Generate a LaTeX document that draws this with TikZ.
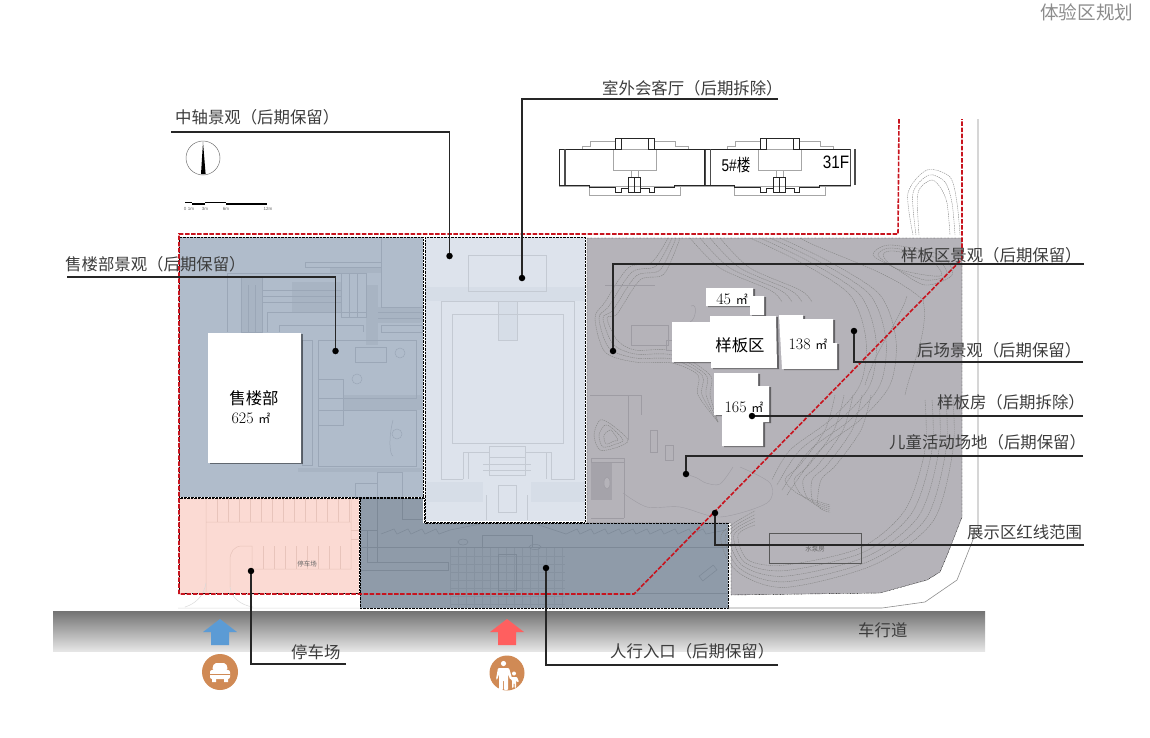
\documentclass[tikz,border=0pt]{standalone}
\usepackage{fontspec}
\usepackage{amsmath}
\newfontfamily\cjk{Noto Sans CJK SC}
\newfontfamily\arialfont{Liberation Sans}
\usetikzlibrary{arrows,calc,math,shadows}

\definecolor{zoneblue}{HTML}{B0BCCB}
\definecolor{zonelight}{HTML}{DDE3EC}
\definecolor{zonegray}{HTML}{B5B3B9}
\definecolor{zonedark}{HTML}{8F9BA9}
\definecolor{zonepink}{HTML}{FBDAD3}
\definecolor{lineblue}{HTML}{9BA7B7}
\definecolor{hatchblue}{HTML}{A8B4C3}
\definecolor{linelight}{HTML}{C4CAD3}
\definecolor{hatchlight}{HTML}{D6DDE7}
\definecolor{linegray}{HTML}{9E9CA3}
\definecolor{hatchgray}{HTML}{A5A3AA}
\definecolor{linedark}{HTML}{7D8997}
\definecolor{griddark}{HTML}{8692A0}
\definecolor{linepink}{HTML}{E8C4BB}
\definecolor{redline}{HTML}{C8141E}
\definecolor{arrowblue}{HTML}{5B9BD5}
\definecolor{arrowred}{HTML}{FF5F5F}
\definecolor{iconbrown}{HTML}{D08A55}
\definecolor{labeltext}{HTML}{3C3C3C}

\tikzset{
	zoneedge/.style={draw=black,line width=0.4pt,dash pattern=on 0.7pt off 0.7pt},
	contour/.style={draw=black!48,line width=0.4pt,dash pattern=on 1.4pt off 0.8pt},
	redbound/.style={draw=redline,line width=1.6pt,dash pattern=on 4.5pt off 1.6pt},
	bldg/.style={fill=white,drop shadow={shadow xshift=2pt,shadow yshift=-1pt,opacity=0.45,fill=black}},
	leader/.style={draw=black!85,line width=1.1pt},
	leaddot/.style={circle,fill=black,inner sep=0pt,minimum size=6.5pt},
	label/.style={inner sep=0pt,anchor=west,text=labeltext,font=\cjk\fontsize{16.4}{18}\selectfont},
	areatext/.style={inner sep=0pt,text=black,font=\fontsize{16}{17}\selectfont},
	tinytext/.style={inner sep=0pt,text=black!60,font=\cjk\fontsize{6.5}{7}\selectfont},
	scaletext/.style={inner sep=0pt,text=black!60,font=\arialfont\fontsize{4.5}{5}\selectfont},
}
\newcommand{\sqm}{{\cjk\fontsize{12}{13}\selectfont ㎡}}

\begin{document}
\begin{tikzpicture}[x=1pt,y=-1pt,>=latex]

\tikzmath{
	real	\redx, \redy, \rede;
	\redx = 179;
	\redy = 234;
	\rede = 594;
	real	\unitgap;
	\unitgap = 145.5;
}

\useasboundingbox (0,0) rectangle (1150,737);

% zones
\fill[zoneblue] (179,237) rectangle (423,497);
\fill[zonepink] (179,498) rectangle (359,593);
\fill[zonegray] (587,238)--(962,238)--(962,517)--(948,553)--(940,572)--(927,580)
	--(880,593)--(731,595)--(731,523)--(587,523)--cycle;
\fill[zonedark] (360,498)--(424,498)--(424,523)--(728,523)--(728,608)--(360,608)--cycle;
\fill[zonelight] (424,237) rectangle (586,522);

% sales plaza
\fill[hatchblue] (241,277) rectangle (262,332);
\fill[hatchblue] (292,282) rectangle (341,312);
\fill[hatchblue] (366,285) rectangle (378,345);
\fill[hatchblue] (378,307) rectangle (423,323);
\fill[hatchblue] (343,395) rectangle (422,410);
\fill[hatchblue] (298,468) rectangle (423,472);
\fill[hatchblue] (330,267) rectangle (381,273);
\begin{scope}[draw=lineblue,line width=0.5pt]
\draw (381,238)--(381,307)--(423,307);
\draw (305,262)--(381,262) (305,262)--(305,267)--(381,267);
\draw (227,273)--(227,332) (227,273)--(341,273);
\draw (267,332)--(267,312)--(366,312);
\draw (279,332)--(279,325)--(363,325)--(363,332);
\draw (341,273) rectangle (366,317);
\draw (381,325) rectangle (422,332);
\draw (318,340) rectangle (416,398);
\draw (318,410) rectangle (416,466);
\draw (318,379) rectangle (343,425);
\draw (355,347) rectangle (386,362);
\draw (302,340) rectangle (312,465);
\draw (377,472) rectangle (402,497);
\draw (355,483) rectangle (377,497);
\draw (400,353) circle (5);
\draw (357,379) circle (5);
\draw (397,434) circle (5);
\draw (241,277) rectangle (262,332);
\foreach \xx in {248,255}{\draw (\xx,285)--(\xx,332);}
\foreach \xx in {349,357}{\draw (\xx,273)--(\xx,317);}
\foreach \yy in {290,296,302}{\draw (262,\yy)--(341,\yy);}
\foreach \yy in {312,318}{\draw (378,\yy)--(423,\yy);}
\draw (393,420)..controls (388,440) and (390,455)..(393,456);
\end{scope}

% central court
\fill[hatchlight] (425,287) rectangle (586,301);
\fill[hatchlight] (427,482) rectangle (483,502);
\fill[hatchlight] (531,482) rectangle (586,502);
\fill[hatchlight] (498,301) rectangle (517,340);
\begin{scope}[draw=linelight,line width=0.7pt]
\draw (468,255) rectangle (546,291);
\draw (463,479)--(441,479)--(441,301)--(574,301)--(574,479)--(551,479)--(551,452)--(525,452);
\draw (463,479)--(463,452)--(489,452);
\draw (452,314) rectangle (563,443);
\draw (498,301) rectangle (517,340);
\draw (489,446) rectangle (525,475);
\draw (489,457)--(525,457) (483,464)--(531,464) (483,470)--(531,470);
\draw (498,485) rectangle (516,512);
\draw (486,495)--(486,520) (527,495)--(527,520);
\draw (468,452)--(468,479) (546,452)--(546,479);
\end{scope}

% parking
\begin{scope}[draw=linepink,line width=0.5pt]
\draw (206,498)--(206,592) (206,522)--(351,522) (351,498)--(351,569)--(252,569)--(252,546)
	--(242,546)..controls (234,546) and (230,552)..(230,560)--(230,587);
\foreach \xx in {217,228,...,350}{\draw (\xx,498)--(\xx,522);}
\foreach \xx in {263,274,...,350}{\draw (\xx,546)--(\xx,569);}
\draw (351,530)--(359,530) (351,539)--(359,539);
\end{scope}
\draw[black!15,line width=0.5pt] (178,608)--(360,608)
	(206,583)..controls (204,596) and (195,604)..(185,607)
	(230,587)..controls (231,597) and (240,605)..(253,607);
\node[tinytext] (tinyPark) at (307,564) {停车场};

% entrance
\foreach \xx in {450,458,...,565}{\draw[griddark,line width=0.3pt] (\xx,548)--(\xx,607);}
\foreach \yy in {556,564,...,607}{\draw[griddark,line width=0.3pt] (450,\yy)--(565,\yy);}
\begin{scope}[draw=linedark,line width=0.5pt]
\draw (367,530)--(367,562)--(448,562)--(448,570)--(360,570);
\draw (377,498)--(377,562) (360,530)--(377,530);
\draw (402,498)--(402,519)--(423,519);
\draw (360,547)--(728,547) (634,593)--(728,593);
\draw (482,548)--(482,535)--(532,535)--(532,548);
\draw[line width=0.8pt] (498,554) rectangle (516,590);
\draw (463,542) ellipse (5 and 3);
\draw (535,547) ellipse (6 and 2.5);
\draw[rotate around={38:(708,573)}] (699,570) rectangle (717,576);
\draw plot coordinates {(381,534)(394,529)(397,534)(408,529)(411,534)(422,529)(425,534)(436,529)(439,534)(450,530)(480,524)};
\draw plot coordinates {(536,524)(566,534)(577,529)(580,534)(591,529)(594,534)(605,529)(608,534)(619,529)(622,534)(633,529)(636,534)(647,529)(650,534)(661,529)(664,534)(675,529)(678,534)(689,529)(692,534)(703,529)(706,534)(726,530)};
\end{scope}

% contours of the garden
\foreach \k [evaluate=\k as \d using \k*7] in {0,...,4}{
	\draw[contour] plot[smooth] coordinates {({925+\d},400) ({925+\d},450) ({905+\d},{510+\d*.4})
		({860+\d*.5},{548+\d*.6}) (785,{565+\d*.8}) ({748-\d*.4},{560+\d*.4}) ({738-\d*.6},535) (755,{525-\d*.5})};
}
\foreach \k [evaluate=\k as \d using \k*10] in {0,...,3}{
	\draw[contour] plot[smooth] coordinates {({750+\d},238) ({800+\d},262) ({850+\d},295) ({866+\d},340)
		({860+\d},385) ({830+\d},420) ({790+\d},450) ({772+\d*.5},{480+\d*.5})};
}
\foreach \k [evaluate=\k as \d using \k*9] in {0,...,4}{
	\draw[contour] plot[smooth] coordinates {({835+\d},395) ({825+\d},430) ({800+\d},465) ({785+\d},480) ({800+\d*.5},{495+\d*.3}) (830,{505+\d*.2})};
}
\foreach \k [evaluate=\k as \d using \k*10] in {0,...,3}{
	\draw[contour] plot[smooth] coordinates {({690+\d},238) ({720+\d},268) ({770+\d},290) ({782+\d},302)};
}
\foreach \k [evaluate=\k as \d using \k*4] in {0,...,3}{
	\draw[contour] plot[smooth] coordinates {({668+\d},238) ({652+\d},{262+\d}) ({628+\d},{268+\d}) ({605+\d},{302+\d})
		({595+\d},{318}) ({605+\d},{352-\d}) ({635},{362-\d}) ({672},{363-\d}) ({698+\d},375) ({698+\d},395) ({718},{422})};
}
\foreach \k [evaluate=\k as \d using \k*5] in {0,...,2}{
	\draw[contour] plot[smooth cycle] coordinates {({600+\d},{420+\d}) ({612},{425+\d*.6}) ({628-\d},{440}) ({618-\d*.4},{447-\d*.6}) ({600+\d*.6},{450-\d*.6}) ({594+\d},{435})};
	\draw[contour] plot[smooth] coordinates {({913+\d*.6},235) ({908+\d},193) ({927+\d*.4},{170+\d}) ({950-\d},{177+\d}) ({957-\d},203) ({960-\d},235)};
	\draw[contour] plot[smooth cycle] coordinates {({873+\d},{255}) ({890+\d*.4},{245+\d*.6}) ({940-\d},{255+\d*.5}) ({952-\d},{275}) ({925},{285-\d}) ({895},{268})};
}
\draw[contour] (800,238)..controls (830,255) and (890,270)..(923,300)..controls (930,330) and (910,370)..(905,395);
\draw[contour] (865,385)..controls (875,350) and (900,320)..(907,296);
\draw[linegray,line width=0.4pt] plot[smooth] coordinates {(623,493) (647,507) (680,507) (720,517) (767,503) (770,483) (740,467)};
\draw[linegray,line width=0.4pt] plot[smooth] coordinates {(686,474) (697,478) (706,483) (720,484) (733,467)};

% west garden
\begin{scope}[draw=linegray,line width=0.5pt]
\fill[hatchgray] (591,462) rectangle (612,500);
\draw (591,458) rectangle (624,462);
\draw (624,462)--(624,518) (591,518)--(624,518);
\draw[fill=zonegray] (607,483) ellipse (3 and 6);
\draw (590,395)--(641,395)--(641,415) (628,395)--(628,440);
\draw (650,430) rectangle (657,452) (665,445) rectangle (673,460);
\draw (631,325) rectangle (668,345);
\draw (666,340) rectangle (676,350);
\draw (691,306)..controls (698,302) and (696,320)..(690,322);
\draw (605,285)--(655,285);
\end{scope}

% pump room
\draw[black!65,line width=0.9pt] (769,533) rectangle (861,563);
\node[tinytext] (tinyPump) at (815,549) {水泵房};

% buildings
\path[bldg] (208,333) rectangle (301,463);
\path[bldg] (706,288)--(753,288)--(753,296)--(764,296)--(764,315)--(750,315)--(750,306)--(706,306)--cycle;
\path[bldg] (714,373)--(758,373)--(758,386)--(769,386)--(769,422)--(763,422)--(763,446)--(722,446)--(722,415)--(714,415)--cycle;
\path[bldg] (672,322)--(710,322)--(710,316)--(776,316)--(777,368)--(711,368)--(711,362)--(672,362)--cycle;
\path[bldg] (779,315)--(803,315)--(803,319)--(833,319)--(833,343)--(837,343)--(837,369)--(782,369)--cycle;

% edges of the zones
\draw[white,line width=1.5pt] (424,237)--(424,522)--(586,522)--(586,237);
\draw[zoneedge] (179,237) rectangle (423,497);
\draw[zoneedge] (179,498) rectangle (359,593);
\draw[zoneedge] (425,237) rectangle (585,522);
\draw[zoneedge] (587,238)--(962,238)--(962,517)--(948,553)--(940,572)--(927,580)
	--(880,593)--(731,595)--(731,523)--(587,523)--cycle;
\draw[zoneedge] (360,498)--(424,498)--(424,523)--(728,523)--(728,608)--(360,608)--cycle;

% street
\draw[black!45,line width=0.6pt] (978,119)--(978,527)--(957,580)--(925,602)--(882,608)--(728,608);

% red line
\draw[redbound] (899,119)--(898,234)--(\redx,\redy)--(\redx,\rede)--(634,\rede)--(962,259)--(962,119);

% north and scale
\draw[black!55,line width=0.5pt] (203,158) circle (17);
\fill[black] (203,142)--(205.6,174)--(201,174)--cycle;
\draw[black,line width=0.9pt] (185,202)--(192,202) (205,202)--(226,202);
\draw[black,line width=1.2pt] (192,204)--(205,204) (226,204)--(267,204);
\node[scaletext] (scaleA) at (185,209) {0};
\node[scaletext] (scaleB) at (191,209) {1m};
\node[scaletext] (scaleC) at (205,209) {3m};
\node[scaletext] (scaleD) at (226,209) {6m};
\node[scaletext] (scaleE) at (268,209) {12m};

% tower
\foreach \ux in {0,\unitgap}{
\begin{scope}[xshift=\ux]
\draw[black!35,line width=0.5pt] (613,149) rectangle (656,170);
\draw[black!35,line width=0.5pt] (582,149)--(582,146)--(590,146)--(590,141)--(615,141)
	(654,141)--(675,141)--(675,146)--(688,146)--(688,149);
\draw[black!35,line width=0.5pt] (559,186)--(705,186) (589,186)--(589,195)--(680,195)--(680,186);
\draw[black!35,line width=0.5pt] (631,170)--(631,177) (638,170)--(638,177);
\draw[black!85,line width=0.8pt] (559,149)--(615,149)--(615,138)--(654,138)--(654,149)--(705,149);
\draw[black!85,line width=0.8pt] (559,149)--(559,185)--(589,185)--(589,187)--(615,187)--(615,192)--(621,192)--(621,188)--(628,188)
	(640,188)--(649,188)--(649,192)--(654,192)--(654,187)--(674,187)--(674,185)--(705,185);
\draw[black!85,line width=0.8pt] (615,138)--(615,149)--(621,149)--(621,138) (648,138)--(648,149)--(654,149);
\draw[black!85,line width=0.8pt] (628,177) rectangle (634,192) (634,177) rectangle (640,192);
\draw[black!70,line width=1.2pt] (565,149)--(565,185) (705,149)--(705,185);
\end{scope}
}
\draw[black!70,line width=1.2pt] (855,149)--(855,185);
\node[inner sep=0pt,font=\arialfont\fontsize{17}{18}\selectfont,xscale=0.8] (lbTower) at (736,165) {5\#{\cjk 楼}};
\node[inner sep=0pt,font=\arialfont\fontsize{18}{19}\selectfont,xscale=0.85] (lbFloor) at (836,162) {31F};

% road
\shade[top color=black!55,bottom color=black!10] (53,611) rectangle (985,651);

\fill[arrowblue] (220,619)--(237,632)--(229,632)--(229,645)--(211,645)--(211,632)--(203,632)--cycle;
\fill[arrowred] (507,619)--(524,632)--(516,632)--(516,645)--(498,645)--(498,632)--(490,632)--cycle;

% icons
\fill[iconbrown] (220,672) circle (18);
\fill[white,rounded corners=2pt] (212,670)--(214,663)--(226,663)--(228,670)--cycle;
\fill[white,rounded corners=2pt] (210,670) rectangle (230,679);
\fill[white] (212,679) rectangle (216,682) (224,679) rectangle (228,682);
\draw[iconbrown,line width=0.6pt] (210,674)--(230,674);
\fill[iconbrown] (507,673) circle (17.5);
\fill[white] (503.5,663.5) circle (2.6);
\fill[white,rounded corners=1pt] (498,668)--(509,668)--(512,678)--(510,679)--(508,674)--(508,690)--(504,690)--(504,680)--(503,680)--(503,690)--(499,690)--(499,674)--(497,680)--(496,679)--cycle;
\fill[white] (514,673.5) circle (2);
\fill[white,rounded corners=0.8pt] (511,677)--(517,677)--(519,682)--(517,682)--(516,680)--(516,688)--(514.5,688)--(514.5,683)--(513.5,683)--(513.5,688)--(512,688)--(512,680)--(509,678)--cycle;

% dots
\node[leaddot] (dotZhong) at (449.5,256) {};
\node[leaddot] (dotKeting) at (522,278) {};
\node[leaddot] (dotShou) at (335.5,351) {};
\node[leaddot] (dotYang) at (613,351) {};
\node[leaddot] (dotHou) at (854,331) {};
\node[leaddot] (dotFang) at (752,416) {};
\node[leaddot] (dotErtong) at (686,474) {};
\node[leaddot] (dotHong) at (715,513) {};
\node[leaddot] (dotTing) at (251,571) {};
\node[leaddot] (dotRen) at (546,568) {};

% leaders
\coordinate (endZhong) at (171,132);
\coordinate (endKeting) at (778,99);
\coordinate (endShou) at (67,277);
\coordinate (endYang) at (1084,264);
\coordinate (endHou) at (1083,362);
\coordinate (endFang) at (1083,416);
\coordinate (endErtong) at (1083,456);
\coordinate (endHong) at (1084,545);
\coordinate (endTing) at (346,664);
\coordinate (endRen) at (778,665);

\foreach \nm in {Zhong,Keting,Shou,Yang,Hou,Ertong,Hong,Ting,Ren}{
	\draw[leader] (end\nm)-|(dot\nm);
}
\draw[leader] (endFang)--(dotFang);

% labels
\node[label] (lbZhong) at (175,117) {中轴景观（后期保留）};
\node[label] (lbKeting) at (602,88) {室外会客厅（后期拆除）};
\node[label] (lbShou) at (65,264) {售楼部景观（后期保留）};
\node[label] (lbYang) at (901,255) {样板区景观（后期保留）};
\node[label] (lbHou) at (917,350) {后场景观（后期保留）};
\node[label] (lbFang) at (937,402) {样板房（后期拆除）};
\node[label] (lbErtong) at (889,442) {儿童活动场地（后期保留）};
\node[label] (lbHong) at (967,532) {展示区红线范围};
\node[label] (lbTing) at (291,652) {停车场};
\node[label] (lbRen) at (610,651) {人行入口（后期保留）};
\node[label] (lbRoad) at (858,630) {车行道};
\node[label,text=black!45,font=\cjk\fontsize{18.6}{20}\selectfont] (lbTitle) at (1040,12) {体验区规划};

\node[label,anchor=center,text=black] (lbSales) at (254,398) {售楼部};
\node[areatext] (lbSalesArea) at (251,418) {625 \sqm};
\node[label,anchor=center,text=black] (lbModel) at (740,345) {样板区};
\node[areatext] (lbA) at (732,299) {45 \sqm};
\node[areatext] (lbB) at (808,344) {138 \sqm};
\node[areatext] (lbC) at (744,407) {165 \sqm};

\end{tikzpicture}
\end{document}
